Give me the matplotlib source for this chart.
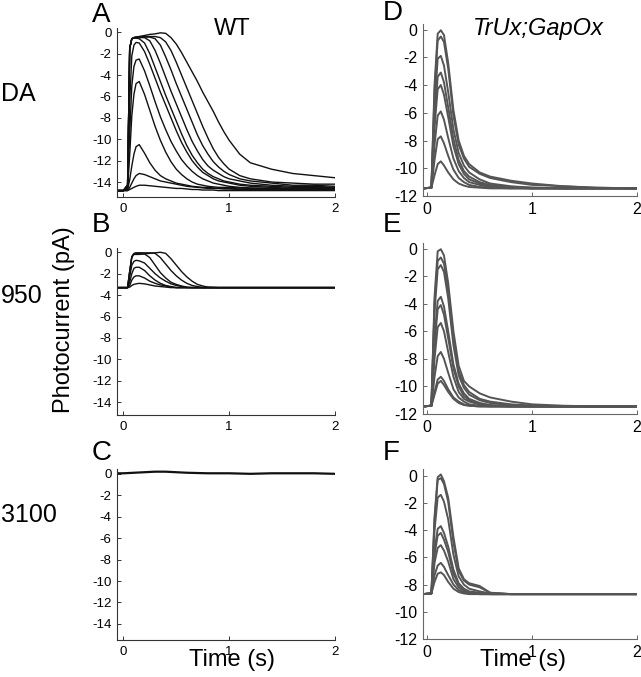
import matplotlib
matplotlib.use("Agg")
import matplotlib.pyplot as plt

plt.rcParams['font.family'] = ['Liberation Sans', 'DejaVu Sans']
plt.rcParams['axes.unicode_minus'] = False

W, H = 641, 677

# ---------------- data ----------------
# Panel A (WT, DA)
tA = [-0.06, 0.0, 0.04, 0.06, 0.08, 0.10, 0.12, 0.15, 0.20, 0.25, 0.30, 0.35, 0.40, 0.45, 0.50,
      0.55, 0.60, 0.65, 0.70, 0.75, 0.80, 0.85, 0.90, 0.95, 1.00, 1.10, 1.20, 1.40, 1.60, 1.80, 2.00]
A1 = [-14.8, -14.8, -14.8, -14.7, -14.6, -14.5, -14.4, -14.3, -14.3, -14.35, -14.4, -14.45, -14.5, -14.55, -14.6,
      -14.6, -14.65, -14.7, -14.7, -14.75, -14.75, -14.75, -14.8, -14.8, -14.8, -14.8, -14.8, -14.8, -14.8, -14.8, -14.8]
A2 = [-14.8, -14.8, -14.8, -14.5, -14.1, -13.7, -13.4, -13.2, -13.3, -13.5, -13.7, -13.9, -14.0, -14.1, -14.2,
      -14.3, -14.4, -14.45, -14.5, -14.55, -14.6, -14.6, -14.6, -14.65, -14.65, -14.7, -14.7, -14.7, -14.75, -14.75, -14.75]
A3 = [-14.8, -14.8, -14.7, -13.8, -12.5, -11.4, -10.7, -10.5, -11.3, -12.2, -12.9, -13.4, -13.7, -13.9, -14.1,
      -14.2, -14.3, -14.4, -14.45, -14.5, -14.5, -14.55, -14.6, -14.6, -14.6, -14.65, -14.65, -14.7, -14.7, -14.7, -14.7]
A4 = [-14.8, -14.8, -14.6, -11.5, -7.8, -5.8, -4.8, -4.6, -5.8, -7.3, -8.8, -10.1, -11.2, -12.1, -12.8,
      -13.3, -13.7, -14.0, -14.2, -14.3, -14.4, -14.45, -14.5, -14.5, -14.5, -14.55, -14.6, -14.6, -14.65, -14.65, -14.65]
A5 = [-14.8, -14.8, -14.5, -9.5, -5.0, -3.2, -2.6, -2.5, -3.6, -5.0, -6.5, -7.9, -9.1, -10.2, -11.1,
      -11.9, -12.5, -13.0, -13.4, -13.7, -13.9, -14.1, -14.2, -14.3, -14.4, -14.5, -14.55, -14.6, -14.6, -14.6, -14.6]
A6 = [-14.8, -14.8, -14.4, -6.5, -2.2, -1.2, -0.95, -1.0, -1.8, -3.0, -4.3, -5.6, -6.8, -8.0, -9.2,
      -10.3, -11.2, -12.0, -12.6, -13.1, -13.4, -13.7, -13.9, -14.0, -14.1, -14.3, -14.4, -14.5, -14.6, -14.6, -14.6]
A7 = [-14.8, -14.8, -14.3, -1.5, -0.6, -0.55, -0.55, -0.6, -1.0, -2.0, -3.3, -4.6, -5.9, -7.1, -8.3,
      -9.5, -10.6, -11.5, -12.2, -12.8, -13.2, -13.5, -13.7, -13.9, -14.0, -14.2, -14.3, -14.4, -14.5, -14.5, -14.55]
A8 = [-14.8, -14.8, -14.3, -1.5, -0.6, -0.55, -0.5, -0.5, -0.5, -0.8, -1.7, -2.9, -4.2, -5.5, -6.7,
      -7.9, -9.1, -10.2, -11.1, -11.9, -12.5, -12.9, -13.2, -13.5, -13.7, -13.9, -14.1, -14.3, -14.4, -14.4, -14.5]
A9 = [-14.8, -14.8, -14.3, -1.5, -0.6, -0.5, -0.45, -0.45, -0.45, -0.45, -0.6, -1.2, -2.3, -3.5, -4.8,
      -6.0, -7.2, -8.4, -9.6, -10.6, -11.4, -12.1, -12.6, -13.0, -13.3, -13.7, -13.9, -14.1, -14.3, -14.3, -14.4]
A10 = [-14.8, -14.8, -14.3, -1.5, -0.6, -0.5, -0.45, -0.4, -0.4, -0.4, -0.4, -0.5, -0.9, -1.7, -2.8,
       -4.0, -5.2, -6.4, -7.6, -8.8, -9.9, -10.9, -11.7, -12.3, -12.8, -13.4, -13.7, -14.0, -14.1, -14.2, -14.2]
A11 = [-14.8, -14.8, -14.3, -1.5, -0.6, -0.5, -0.45, -0.4, -0.3, -0.2, -0.15, -0.05, -0.1, -0.5, -1.1,
       -1.9, -2.8, -3.7, -4.6, -5.6, -6.5, -7.4, -8.4, -9.3, -10.1, -11.4, -12.2, -12.8, -13.2, -13.4, -13.6]
tracesA = [A1, A2, A3, A4, A5, A6, A7, A8, A9, A10, A11]

# Panel B (WT, 950)
tB = [-0.06, 0.0, 0.04, 0.06, 0.08, 0.10, 0.12, 0.15, 0.20, 0.25, 0.30, 0.35, 0.40, 0.45, 0.50,
      0.55, 0.60, 0.65, 0.70, 0.75, 0.80, 0.90, 1.00, 1.20, 1.40, 1.60, 1.80, 2.00]
B1 = [-3.3, -3.3, -3.3, -3.25, -3.1, -3.0, -2.95, -2.9, -2.95, -3.05, -3.15, -3.2, -3.25, -3.3, -3.3,
      -3.3, -3.3, -3.3, -3.3, -3.3, -3.3, -3.3, -3.3, -3.3, -3.3, -3.3, -3.3, -3.3]
B2 = [-3.3, -3.3, -3.3, -3.1, -2.6, -2.3, -2.2, -2.2, -2.4, -2.7, -2.9, -3.05, -3.15, -3.25, -3.3,
      -3.3, -3.3, -3.3, -3.3, -3.3, -3.3, -3.3, -3.3, -3.3, -3.3, -3.3, -3.3, -3.3]
B3 = [-3.3, -3.3, -3.3, -2.8, -2.0, -1.5, -1.4, -1.4, -1.7, -2.2, -2.6, -2.9, -3.1, -3.2, -3.3,
      -3.3, -3.3, -3.3, -3.3, -3.3, -3.3, -3.3, -3.3, -3.3, -3.3, -3.3, -3.3, -3.3]
B4 = [-3.3, -3.3, -3.3, -2.3, -1.2, -0.85, -0.75, -0.8, -1.0, -1.5, -2.0, -2.4, -2.7, -2.95, -3.1,
      -3.2, -3.3, -3.3, -3.3, -3.3, -3.3, -3.3, -3.3, -3.3, -3.3, -3.3, -3.3, -3.3]
B5 = [-3.3, -3.3, -3.3, -1.8, -0.5, -0.15, -0.1, -0.1, -0.15, -0.5, -1.2, -1.9, -2.4, -2.8, -3.0,
      -3.15, -3.25, -3.3, -3.3, -3.3, -3.3, -3.3, -3.3, -3.3, -3.3, -3.3, -3.3, -3.3]
B6 = [-3.3, -3.3, -3.3, -1.8, -0.4, -0.1, -0.05, -0.05, -0.05, -0.05, -0.1, -0.5, -1.1, -1.7, -2.2,
      -2.6, -2.9, -3.1, -3.2, -3.3, -3.3, -3.3, -3.3, -3.3, -3.3, -3.3, -3.3, -3.3]
B7 = [-3.3, -3.3, -3.3, -1.8, -0.4, -0.2, -0.2, -0.2, -0.15, -0.1, -0.05, 0.0, -0.1, -0.6, -1.2,
      -1.8, -2.3, -2.7, -3.0, -3.15, -3.25, -3.3, -3.3, -3.3, -3.3, -3.3, -3.3, -3.3]
tracesB = [B1, B2, B3, B4, B5, B6, B7]

# Panel C (WT, 3100)
tC = [-0.06, 0.0, 0.1, 0.2, 0.3, 0.4, 0.5, 0.6, 0.8, 1.0, 1.2, 1.4, 1.6, 1.8, 2.0]
C1 = [0.05, 0.05, 0.1, 0.15, 0.2, 0.2, 0.15, 0.1, 0.05, 0.05, 0.0, 0.05, 0.05, 0.05, 0.0]

# Right column (TrUx;GapOx)
tR = [-0.04, 0.04, 0.07, 0.10, 0.13, 0.16, 0.20, 0.25, 0.30, 0.35, 0.40, 0.50, 0.60, 0.80, 1.00, 1.30, 1.60, 2.00]
D1 = [-11.45, -11.4, -4.0, -0.3, -0.05, -0.4, -2.4, -5.8, -8.0, -9.1, -9.7, -10.3, -10.6, -10.9, -11.1, -11.3, -11.4, -11.45]
D2 = [-11.45, -11.4, -4.5, -0.8, -0.5, -0.9, -2.8, -6.2, -8.3, -9.3, -9.9, -10.4, -10.7, -11.0, -11.2, -11.3, -11.4, -11.45]
D3 = [-11.45, -11.4, -5.5, -2.1, -1.9, -2.6, -4.5, -7.2, -8.9, -9.8, -10.3, -10.8, -11.1, -11.3, -11.4, -11.45, -11.45, -11.45]
D4 = [-11.45, -11.4, -6.5, -3.4, -3.1, -3.8, -5.6, -7.9, -9.4, -10.2, -10.6, -11.0, -11.2, -11.35, -11.4, -11.45, -11.45, -11.45]
D5 = [-11.45, -11.4, -7.0, -4.3, -4.0, -4.7, -6.3, -8.4, -9.7, -10.4, -10.8, -11.1, -11.3, -11.4, -11.45, -11.45, -11.45, -11.45]
D6 = [-11.45, -11.4, -8.3, -6.2, -5.9, -6.5, -7.8, -9.3, -10.2, -10.7, -11.0, -11.2, -11.35, -11.4, -11.45, -11.45, -11.45, -11.45]
D7 = [-11.45, -11.4, -9.4, -7.9, -7.7, -8.2, -9.1, -10.1, -10.7, -11.0, -11.2, -11.35, -11.4, -11.45, -11.45, -11.45, -11.45, -11.45]
D8 = [-11.45, -11.4, -10.5, -9.7, -9.5, -9.8, -10.3, -10.8, -11.1, -11.25, -11.35, -11.4, -11.45, -11.45, -11.45, -11.45, -11.45, -11.45]
tracesD = [D1, D2, D3, D4, D5, D6, D7, D8]

E1 = [-11.45, -11.4, -3.5, -0.2, -0.05, -0.5, -2.5, -6.0, -8.5, -9.6, -10.0, -10.5, -10.8, -11.1, -11.3, -11.4, -11.45, -11.45]
E2 = [-11.45, -11.4, -4.0, -0.9, -0.65, -1.1, -3.0, -6.5, -8.9, -9.9, -10.4, -10.9, -11.1, -11.3, -11.4, -11.45, -11.45, -11.45]
E3 = [-11.45, -11.4, -4.6, -1.5, -1.2, -1.7, -3.6, -7.0, -9.2, -10.1, -10.6, -11.0, -11.2, -11.35, -11.4, -11.45, -11.45, -11.45]
E4 = [-11.45, -11.4, -6.5, -3.8, -3.5, -4.2, -6.0, -8.4, -9.8, -10.5, -10.9, -11.2, -11.35, -11.4, -11.45, -11.45, -11.45, -11.45]
E5 = [-11.45, -11.4, -7.0, -4.4, -4.1, -4.8, -6.5, -8.7, -10.0, -10.7, -11.0, -11.3, -11.4, -11.45, -11.45, -11.45, -11.45, -11.45]
E6 = [-11.45, -11.4, -8.0, -5.7, -5.4, -6.0, -7.5, -9.3, -10.4, -10.9, -11.1, -11.3, -11.4, -11.45, -11.45, -11.45, -11.45, -11.45]
E7 = [-11.45, -11.4, -9.3, -7.8, -7.5, -8.0, -9.0, -10.2, -10.8, -11.1, -11.3, -11.4, -11.45, -11.45, -11.45, -11.45, -11.45, -11.45]
E8 = [-11.45, -11.4, -10.4, -9.5, -9.3, -9.6, -10.2, -10.8, -11.1, -11.3, -11.4, -11.45, -11.45, -11.45, -11.45, -11.45, -11.45, -11.45]
E9 = [-11.45, -11.4, -10.6, -9.8, -9.6, -9.9, -10.4, -10.9, -11.2, -11.35, -11.4, -11.45, -11.45, -11.45, -11.45, -11.45, -11.45, -11.45]
tracesE = [E1, E2, E3, E4, E5, E6, E7, E8, E9]

F1 = [-8.7, -8.65, -3.0, -0.1, 0.1, -0.4, -1.6, -4.5, -6.8, -7.6, -7.9, -8.1, -8.6, -8.7, -8.7, -8.7, -8.7, -8.7]
F2 = [-8.7, -8.65, -3.3, -0.3, -0.17, -0.6, -1.9, -4.9, -7.0, -7.7, -8.0, -8.2, -8.6, -8.7, -8.7, -8.7, -8.7, -8.7]
F3 = [-8.7, -8.65, -4.0, -1.6, -1.4, -1.9, -3.2, -5.8, -7.4, -8.0, -8.3, -8.5, -8.65, -8.7, -8.7, -8.7, -8.7, -8.7]
F4 = [-8.7, -8.65, -5.5, -3.9, -3.7, -4.2, -5.2, -6.9, -7.9, -8.3, -8.5, -8.6, -8.7, -8.7, -8.7, -8.7, -8.7, -8.7]
F5 = [-8.7, -8.65, -5.8, -4.4, -4.2, -4.7, -5.6, -7.2, -8.0, -8.4, -8.55, -8.65, -8.7, -8.7, -8.7, -8.7, -8.7, -8.7]
F6 = [-8.7, -8.65, -6.4, -5.3, -5.1, -5.5, -6.3, -7.6, -8.2, -8.5, -8.6, -8.7, -8.7, -8.7, -8.7, -8.7, -8.7, -8.7]
F7 = [-8.7, -8.65, -7.3, -6.6, -6.4, -6.7, -7.3, -8.0, -8.4, -8.6, -8.65, -8.7, -8.7, -8.7, -8.7, -8.7, -8.7, -8.7]
F8 = [-8.7, -8.65, -7.8, -7.2, -7.1, -7.3, -7.8, -8.3, -8.55, -8.65, -8.7, -8.7, -8.7, -8.7, -8.7, -8.7, -8.7, -8.7]
tracesF = [F1, F2, F3, F4, F5, F6, F7, F8]

xticks = [0, 1, 2]
yticks_left = [0, -2, -4, -6, -8, -10, -12, -14]
yticks_right = [0, -2, -4, -6, -8, -10, -12]

# ---------------- figure ----------------
fig = plt.figure(figsize=(W / 100, H / 100), dpi=100)


def rect(l, r, t, b):
    return [l / W, 1 - b / H, (r - l) / W, (b - t) / H]


def style(ax, yticks, xlim, ylim, fs, spine_col):
    for s in ['top', 'right']:
        ax.spines[s].set_visible(False)
    for s in ['left', 'bottom']:
        ax.spines[s].set_color(spine_col)
        ax.spines[s].set_linewidth(0.8)
    ax.set_xlim(*xlim)
    ax.set_ylim(*ylim)
    ax.set_xticks(xticks)
    ax.set_yticks(yticks)
    ax.set_xticklabels([str(v) for v in xticks])
    ax.set_yticklabels([str(v) for v in yticks])
    ax.tick_params(direction='in', length=3, width=0.7, color=spine_col, labelsize=fs, pad=4)


left_col = '#111111'
right_col = '#555555'

axA = fig.add_axes(rect(117, 335, 28, 197))
for tr in tracesA:
    axA.plot(tA, tr, color=left_col, lw=1.0)
style(axA, yticks_left, (-0.06, 2.0), (-15.4, 0.4), 9.5, '#333333')

axB = fig.add_axes(rect(117, 335, 248, 415))
for tr in tracesB:
    axB.plot(tB, tr, color=left_col, lw=1.0)
style(axB, yticks_left, (-0.06, 2.0), (-15.2, 0.4), 9.5, '#333333')

axC = fig.add_axes(rect(117, 335, 469, 640))
axC.plot(tC, C1, color=left_col, lw=1.6)
style(axC, yticks_left, (-0.06, 2.0), (-15.5, 0.45), 9.5, '#333333')

axD = fig.add_axes(rect(423, 637, 24, 196))
for tr in tracesD:
    axD.plot(tR, tr, color=right_col, lw=1.4)
style(axD, yticks_right, (-0.04, 2.0), (-12, 0.4), 11.5, '#666666')

axE = fig.add_axes(rect(423, 637, 243, 414))
for tr in tracesE:
    axE.plot(tR, tr, color=right_col, lw=1.4)
style(axE, yticks_right, (-0.04, 2.0), (-12, 0.4), 11.5, '#666666')

axF = fig.add_axes(rect(423, 637, 469, 639))
for tr in tracesF:
    axF.plot(tR, tr, color=right_col, lw=1.4)
style(axF, yticks_right, (-0.04, 2.0), (-12, 0.5), 11.5, '#666666')


def ftext(x, y, s, **kw):
    fig.text(x / W, 1 - y / H, s, **kw)


for lab, x, y in [('A', 92, 22), ('B', 92, 232), ('C', 92, 460),
                  ('D', 383, 20), ('E', 383, 232), ('F', 383, 460)]:
    ftext(x, y, lab, fontsize=20, ha='left', va='baseline')

ftext(232, 35, 'WT', fontsize=17, ha='center', va='baseline')
ftext(538, 35, 'TrUx;GapOx', fontsize=17, style='italic', ha='center', va='baseline')

ftext(1, 101, 'DA', fontsize=18, ha='left', va='baseline')
ftext(1, 303, '950', fontsize=18, ha='left', va='baseline')
ftext(1, 522, '3100', fontsize=18, ha='left', va='baseline')

ftext(64, 320, 'Photocurrent (pA)', fontsize=17, rotation=90, ha='center', va='center')
ftext(232, 666, 'Time (s)', fontsize=17, ha='center', va='baseline')
ftext(523, 666, 'Time (s)', fontsize=17, ha='center', va='baseline')

fig.savefig('out.png', dpi=100)
